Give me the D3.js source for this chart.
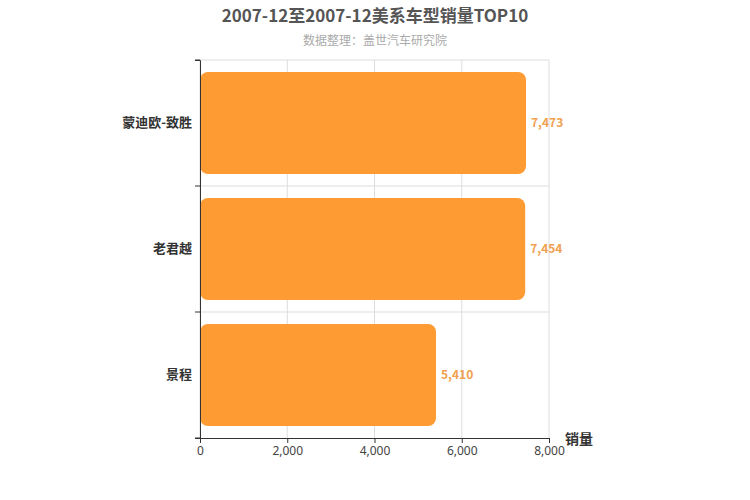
<!DOCTYPE html>
<html><head><meta charset="utf-8">
<script src="https://d3js.org/d3.v7.min.js"></script>
<style>body{margin:0;background:#fff}svg{font-family:"Noto Sans CJK SC","Noto Sans",sans-serif}</style>
</head><body><svg id="c" width="750" height="500"></svg>
<script>
const categories = ["蒙迪欧-致胜","老君越","景程"];
const sales = [7473,7454,5410];
const xTicks = [0,2000,4000,6000,8000];
const title = "2007-12至2007-12美系车型销量TOP10";
const subtitle = "数据整理：盖世汽车研究院";

const svg = d3.select("#c");
const L=200,R=549,T=60,B=438;
const x = d3.scaleLinear().domain([0,8000]).range([L,R]);
const y = d3.scaleBand().domain(categories).range([T,B]).paddingInner(0.19).paddingOuter(0.095);
const yb = d3.scaleBand().domain(categories).range([T,B]);

svg.append("text").attr("x",375).attr("y",22).attr("text-anchor","middle").attr("font-size",17).attr("font-weight","bold").attr("fill","#555").text(title);
svg.append("text").attr("x",375).attr("y",45).attr("text-anchor","middle").attr("font-size",12).attr("fill","#aaa").text(subtitle);

// grid
svg.selectAll(".vg").data(xTicks).join("line").attr("x1",d=>x(d)).attr("x2",d=>x(d)).attr("y1",T).attr("y2",B).attr("stroke","#ddd");
svg.selectAll(".hg").data(categories).join("line").attr("x1",L).attr("x2",R).attr("y1",d=>yb(d)).attr("y2",d=>yb(d)).attr("stroke","#ddd");

// bars
svg.selectAll(".bar").data(categories).join("rect").attr("x",L).attr("y",d=>y(d)).attr("width",(d,i)=>x(sales[i])-L).attr("height",y.bandwidth()).attr("rx",8).attr("fill","#ff9b33");
svg.selectAll(".lbl").data(categories).join("text").attr("x",(d,i)=>x(sales[i])+5).attr("y",d=>y(d)+y.bandwidth()/2+4).attr("font-size",12).attr("font-weight","bold").attr("fill","#f0a050").text((d,i)=>d3.format(",")(sales[i]));

// axes
const ya = svg.append("g").attr("transform",`translate(${L},0)`).call(d3.axisLeft(yb).tickSize(5).tickSizeOuter(5));
ya.select(".domain").attr("stroke","#333");
ya.selectAll(".tick line").attr("stroke","#333");
ya.selectAll("text").attr("font-size",13).attr("font-weight","bold").attr("fill","#333").attr("font-family","Noto Sans CJK SC");
// boundary ticks
ya.selectAll(".bt").data([T,186,313,B].map((v,i)=>i==0?T:i==3?B:yb(categories[i]))).join("line").attr("x1",-5).attr("x2",0).attr("y1",d=>d).attr("y2",d=>d).attr("stroke","#333");
ya.selectAll(".tick line").remove();

const xa = svg.append("g").attr("transform",`translate(0,${B})`).call(d3.axisBottom(x).tickValues(xTicks).tickFormat(d3.format(",")).tickSize(5));
xa.select(".domain").attr("stroke","#333");
xa.selectAll("line").attr("stroke","#333");
xa.selectAll("text").attr("font-size",12).attr("fill","#444").attr("font-family","Noto Sans");
svg.append("text").attr("x",565).attr("y",444).attr("font-size",14).attr("font-weight","bold").attr("fill","#333").text("销量");
</script></body></html>
